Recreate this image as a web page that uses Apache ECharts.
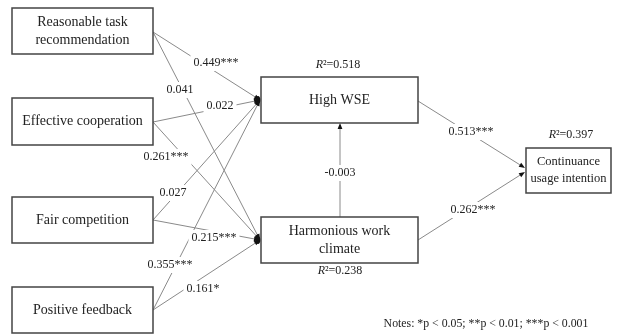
<!DOCTYPE html>
<html><head><meta charset="utf-8">
<script src="https://cdn.jsdelivr.net/npm/echarts@6/dist/echarts.min.js"></script>
<style>html,body{margin:0;padding:0;background:#fff}#c{width:638px;height:335px}</style>
</head><body><div id="c"></div>
<script>
// ---- data ----
const nodeNames = ['Reasonable task\nrecommendation', 'Effective cooperation', 'Fair competition', 'Positive feedback', 'High WSE', 'Harmonious work\nclimate', 'Continuance\nusage intention'];
const rSquared = [null, null, null, null, 0.518, 0.238, 0.397];
const pathFrom = [0, 0, 1, 1, 2, 2, 3, 3, 4, 5, 5];
const pathTo   = [4, 5, 4, 5, 4, 5, 4, 5, 6, 6, 4];
const coefficients = [0.449, 0.041, 0.022, 0.261, 0.027, 0.215, 0.355, 0.161, 0.513, 0.262, -0.003];
const significance = ['***', '', '', '***', '', '***', '***', '*', '***', '***', ''];
const noteText = 'Notes: *p < 0.05; **p < 0.01; ***p < 0.001';

// ---- layout (diagram coordinates) ----
const boxes = [[12,8,153,54],[12,98,153,145],[12,197,153,243],[12,287,153,333],[261,77,418,123],[261,217,418,263],[526,148,611,193]];
const boxFont = [14, 14, 14, 14, 14, 14, 12.5];
const boxLine = [18, 18, 18, 18, 18, 18, 17];
const edgeStart = [[153,32],[153,32],[153,122],[153,122],[153,220],[153,220],[153,310],[153,310],[418,101],[418,240],[340,217]];
const edgeEnd = [[260,100],[260,240],[260,100],[260,240],[260,100],[260,240],[260,100],[260,240],[525,168],[525,172],[340,123]];
const labelPos = [[216,63],[180,90],[220,106],[166,157],[173,193],[214,238],[170,265],[203,289],[471,132],[473,210],[340,173]];
const r2Pos = [null,null,null,null,[338,65],[340,271],[571,135]];
const notePos = [486,324];
const ovals = [[259,100],[259,240]];

const FONT = "'Liberation Serif','Times New Roman',serif";
const chart = echarts.init(document.getElementById('c'));

function fmt(v){ return v.toFixed(3); }

const option = {
  backgroundColor: '#fff',
  animation: false,
  grid: {left: 0, right: 0, top: 0, bottom: 0},
  xAxis: {type: 'value', min: 0, max: 638, show: false},
  yAxis: {type: 'value', min: 0, max: 335, inverse: true, show: false},
  series: [
    { // edges
      type: 'custom', clip: false, z: 1,
      data: pathFrom.map((f, i) => [i]),
      renderItem: function(params, api){
        const i = params.dataIndex;
        const a = api.coord(edgeStart[i]), b = api.coord(edgeEnd[i]);
        const dx = b[0]-a[0], dy = b[1]-a[1], L = Math.sqrt(dx*dx+dy*dy);
        const ux = dx/L, uy = dy/L, hl = 6, hw = 2.4;
        const bx = b[0]-ux*hl, by = b[1]-uy*hl;
        return {type: 'group', children: [
          {type: 'line', shape: {x1: a[0], y1: a[1], x2: bx, y2: by}, style: {stroke: '#8a8a8a', lineWidth: 1}},
          {type: 'polygon', shape: {points: [[b[0], b[1]], [bx - uy*hw, by + ux*hw], [bx + uy*hw, by - ux*hw]]}, style: {fill: '#111'}}
        ]};
      }
    },
    { // converging ovals
      type: 'custom', clip: false, z: 2,
      data: ovals.map((o, i) => [i]),
      renderItem: function(params, api){
        const p = api.coord(ovals[params.dataIndex]);
        return {type: 'ellipse', shape: {cx: p[0]-1, cy: p[1], rx: 2.5, ry: 4}, style: {fill: '#111'}};
      }
    },
    { // boxes
      type: 'custom', clip: false, z: 3,
      data: nodeNames.map((n, i) => [i]),
      renderItem: function(params, api){
        const i = params.dataIndex;
        const p0 = api.coord([boxes[i][0], boxes[i][1]]), p1 = api.coord([boxes[i][2], boxes[i][3]]);
        const children = [
          {type: 'rect', shape: {x: p0[0], y: p0[1], width: p1[0]-p0[0], height: p1[1]-p0[1]}, style: {fill: '#fff', stroke: '#444', lineWidth: 1.5}},
          {type: 'text', x: (p0[0]+p1[0])/2, y: (p0[1]+p1[1])/2, style: {text: nodeNames[i], font: boxFont[i] + 'px ' + FONT, fill: '#222', align: 'center', verticalAlign: 'middle', lineHeight: boxLine[i]}}
        ];
        if (rSquared[i] !== null) {
          const r = api.coord(r2Pos[i]);
          children.push({type: 'text', x: r[0], y: r[1], style: {
            text: '{i|R}{n|²=' + rSquared[i].toFixed(3) + '}',
            align: 'center', verticalAlign: 'middle',
            rich: {i: {font: 'italic 12px ' + FONT, fill: '#222'}, n: {font: '12px ' + FONT, fill: '#222'}}
          }});
        }
        return {type: 'group', children: children};
      }
    },
    { // path labels
      type: 'custom', clip: false, z: 4,
      data: coefficients.map((c, i) => [i]),
      renderItem: function(params, api){
        const i = params.dataIndex;
        const p = api.coord(labelPos[i]);
        return {type: 'text', x: p[0], y: p[1], style: {
          text: fmt(coefficients[i]) + significance[i], font: '12px ' + FONT, fill: '#222',
          align: 'center', verticalAlign: 'middle', backgroundColor: '#fff', padding: [2, 3]
        }};
      }
    },
    { // note
      type: 'custom', clip: false, z: 4,
      data: [[0]],
      renderItem: function(params, api){
        const p = api.coord(notePos);
        return {type: 'text', x: p[0], y: p[1], style: {text: noteText, font: '11.8px ' + FONT, fill: '#222', align: 'center', verticalAlign: 'middle'}};
      }
    }
  ]
};
chart.setOption(option);
</script>
</body></html>
